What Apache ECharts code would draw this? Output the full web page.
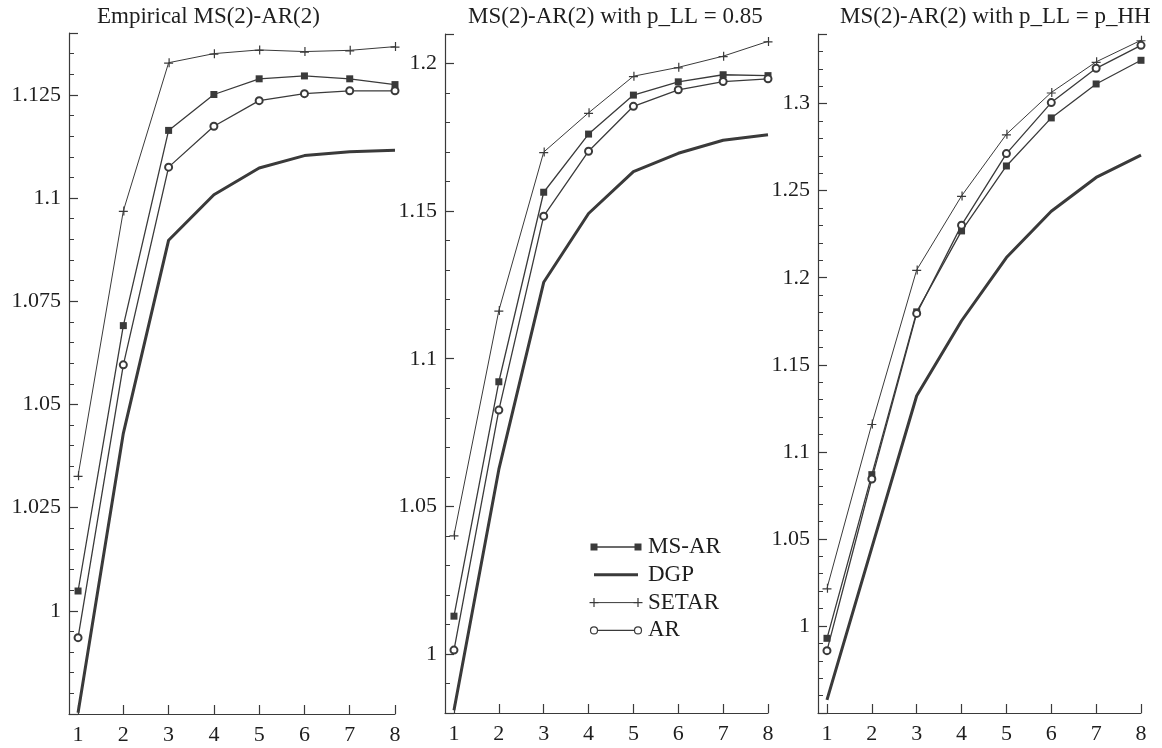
<!DOCTYPE html>
<html><head><meta charset="utf-8">
<script src="https://cdn.jsdelivr.net/npm/echarts@6/dist/echarts.min.js"></script>
<style>html,body{margin:0;padding:0;background:#fff}#c{width:1162px;height:748px}</style>
</head><body><div id="c"></div>
<script>
// ---- data ----
const horizons = [1, 2, 3, 4, 5, 6, 7, 8];
const seriesNames = ['MS-AR', 'DGP', 'SETAR', 'AR'];
const panelTitles = ['Empirical MS(2)-AR(2)', 'MS(2)-AR(2) with p_LL = 0.85', 'MS(2)-AR(2) with p_LL = p_HH'];

const emp_msar  = [1.0048, 1.0691, 1.1164, 1.1251, 1.1289, 1.1296, 1.1289, 1.1275];
const emp_dgp   = [0.9753, 1.0430, 1.0898, 1.1008, 1.1073, 1.1103, 1.1112, 1.1116];
const emp_setar = [1.0327, 1.0969, 1.1328, 1.1350, 1.1359, 1.1355, 1.1358, 1.1367];
const emp_ar    = [0.9935, 1.0596, 1.1075, 1.1174, 1.1236, 1.1253, 1.1260, 1.1260];

const pll_msar  = [1.0128, 1.0922, 1.1564, 1.1761, 1.1893, 1.1938, 1.1962, 1.1959];
const pll_dgp   = [0.9809, 1.0625, 1.1259, 1.1492, 1.1634, 1.1696, 1.1740, 1.1759];
const pll_setar = [1.0402, 1.1163, 1.1700, 1.1833, 1.1957, 1.1987, 1.2025, 1.2075];
const pll_ar    = [1.0013, 1.0826, 1.1483, 1.1703, 1.1855, 1.1911, 1.1939, 1.1948];

const phh_msar  = [0.9929, 1.0869, 1.1804, 1.2269, 1.2642, 1.2918, 1.3113, 1.3249];
const phh_dgp   = [0.9575, 1.0450, 1.1322, 1.1753, 1.2116, 1.2382, 1.2576, 1.2704];
const phh_setar = [1.0216, 1.1160, 1.2045, 1.2470, 1.2824, 1.3064, 1.3240, 1.3364];
const phh_ar    = [0.9858, 1.0844, 1.1795, 1.2302, 1.2713, 1.3006, 1.3203, 1.3335];

const xRange = [0.8, 8];
const yRanges = [[0.975, 1.14], [0.98, 1.21], [0.95, 1.34]];
const yMajorSteps = [0.025, 0.05, 0.05];

const panelData = [
  [emp_msar, emp_dgp, emp_setar, emp_ar],
  [pll_msar, pll_dgp, pll_setar, pll_ar],
  [phh_msar, phh_dgp, phh_setar, phh_ar]
];

// ---- layout / style ----
const FONT = 'Liberation Serif';
const INK = '#1e1e1e';
const LINE = '#3a3a3a';
const grids = [
  {left: 69, top: 33, width: 326, height: 681},
  {left: 445, top: 34, width: 323, height: 679},
  {left: 818, top: 34, width: 323, height: 679}
];
const titleLefts = [97, 468, 840];
const plusPath = 'path://M0,4.4 L9,4.4 L9,5.6 L0,5.6 Z M4.4,0 L5.6,0 L5.6,9 L4.4,9 Z';
const styles = [
  {symbol: 'rect', symbolSize: 7, lineWidth: 1.3},
  {symbol: 'none', symbolSize: 0, lineWidth: 3},
  {symbol: plusPath, symbolSize: 9, lineWidth: 1},
  {symbol: 'emptyCircle', symbolSize: 7, lineWidth: 1.3}
];

const xAxes = [], yAxes = [], series = [], titles = [];
grids.forEach((g, i) => {
  titles.push({
    text: panelTitles[i], left: titleLefts[i], top: 5, padding: 0,
    textStyle: {fontFamily: FONT, fontSize: 23, fontWeight: 'normal', color: INK}
  });
  xAxes.push({
    type: 'value', gridIndex: i, min: xRange[0], max: xRange[1],
    minInterval: 1, maxInterval: 1,
    axisLine: {show: true, lineStyle: {color: LINE, width: 1.2}},
    axisTick: {show: true, inside: true, length: 9, lineStyle: {color: LINE, width: 1.2}},
    axisLabel: {showMinLabel: false, showMaxLabel: true, margin: 10,
      fontFamily: FONT, fontSize: 22, color: INK},
    splitLine: {show: false}
  });
  const y = {
    type: 'value', gridIndex: i, min: yRanges[i][0], max: yRanges[i][1],
    axisLine: {show: true, lineStyle: {color: LINE, width: 1.2}},
    axisTick: {show: true, inside: true, length: 9, lineStyle: {color: LINE, width: 1.2}},
    minorTick: {show: true, splitNumber: 5, length: 5, lineStyle: {color: LINE, width: 1}},
    axisLabel: {showMinLabel: false, showMaxLabel: false, margin: 8,
      fontFamily: FONT, fontSize: 22, color: INK},
    splitLine: {show: false}, minorSplitLine: {show: false}
  };
  if (i === 1) { y.minInterval = yMajorSteps[i]; y.maxInterval = yMajorSteps[i]; }
  else { y.interval = yMajorSteps[i]; }
  yAxes.push(y);
  panelData[i].forEach((vals, k) => {
    const s = styles[k];
    series.push({
      type: 'line', name: seriesNames[k], xAxisIndex: i, yAxisIndex: i,
      data: horizons.map((h, j) => [h, vals[j]]),
      symbol: s.symbol, symbolSize: s.symbolSize, showSymbol: s.symbol !== 'none',
      color: LINE,
      lineStyle: {color: LINE, width: s.lineWidth},
      itemStyle: k === 3 ? {color: LINE, borderColor: LINE, borderWidth: 1.2} : {color: LINE, borderWidth: 0},
      emphasis: {disabled: true}, z: 2 + k
    });
  });
});

// legend drawn as graphic (inside middle panel)
const legendOrigin = [594, 547];
const legendRowGap = 27.8;
const legendLen = 44;
const legendChildren = [];
seriesNames.forEach((name, k) => {
  const yy = k * legendRowGap;
  const st = styles[k];
  legendChildren.push({type: 'line', shape: {x1: 0, y1: yy, x2: legendLen, y2: yy},
    style: {stroke: LINE, lineWidth: st.lineWidth}});
  [0, legendLen].forEach(xx => {
    if (k === 0) legendChildren.push({type: 'rect', shape: {x: xx - 3.5, y: yy - 3.5, width: 7, height: 7}, style: {fill: LINE}});
    if (k === 2) {
      legendChildren.push({type: 'line', shape: {x1: xx - 4.5, y1: yy, x2: xx + 4.5, y2: yy}, style: {stroke: LINE, lineWidth: 1.2}});
      legendChildren.push({type: 'line', shape: {x1: xx, y1: yy - 4.5, x2: xx, y2: yy + 4.5}, style: {stroke: LINE, lineWidth: 1.2}});
    }
    if (k === 3) legendChildren.push({type: 'circle', shape: {cx: xx, cy: yy, r: 3.5}, style: {fill: '#fff', stroke: LINE, lineWidth: 1.2}});
  });
  legendChildren.push({type: 'text', x: legendLen + 10, y: yy,
    style: {text: name, fontFamily: FONT, fontSize: 23, fill: INK, verticalAlign: 'middle', align: 'left'}});
});

const chart = echarts.init(document.getElementById('c'), null, {renderer: 'canvas'});
chart.setOption({
  backgroundColor: '#fff',
  animation: false,
  title: titles,
  grid: grids.map(g => Object.assign({containLabel: false}, g)),
  xAxis: xAxes, yAxis: yAxes, series: series,
  graphic: [{type: 'group', x: legendOrigin[0], y: legendOrigin[1], children: legendChildren}]
});
</script></body></html>
